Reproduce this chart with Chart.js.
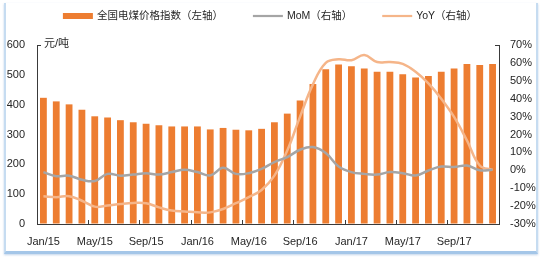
<!DOCTYPE html>
<html>
<head>
<meta charset="utf-8">
<script src="https://cdn.jsdelivr.net/npm/chart.js@4/dist/chart.umd.min.js"></script>
<style>
html,body{margin:0;padding:0;background:#fff;}
#wrap{position:relative;width:546px;height:262px;overflow:hidden;background:#fff;}
#frame{position:absolute;left:4px;top:3px;width:530px;height:248px;border-left:2px solid #C6DCF1;border-right:2px solid #C6DCF1;border-bottom:3px solid #A4C6E8;box-shadow:0 1px 2px rgba(120,160,210,0.45);}
canvas{position:absolute;left:0;top:0;}
</style>
</head>
<body>
<div id="wrap"><div id="frame"></div><canvas id="c" width="546" height="262"></canvas></div>
<script>
// ---- data ----
const categories = [
  'Jan/15','Feb/15','Mar/15','Apr/15','May/15','Jun/15','Jul/15','Aug/15','Sep/15','Oct/15','Nov/15','Dec/15',
  'Jan/16','Feb/16','Mar/16','Apr/16','May/16','Jun/16','Jul/16','Aug/16','Sep/16','Oct/16','Nov/16','Dec/16',
  'Jan/17','Feb/17','Mar/17','Apr/17','May/17','Jun/17','Jul/17','Aug/17','Sep/17','Oct/17','Nov/17','Dec/17'
];
const priceIndex = [
  423, 411, 401, 383, 361, 357, 348, 341, 336, 331, 327, 327,
  327, 317, 322, 316, 314, 319, 341, 370, 414, 469, 519, 535,
  529, 521, 510, 510, 502, 491, 496, 510, 521, 536, 533, 536
];
const momPct = [
  -1.0, -3.3, -3.0, -5.3, -6.0, -2.0, -3.0, -2.4, -1.6, -2.4, -1.0, 0.3,
  -1.0, -2.9, 1.4, -2.0, -1.6, 0.8, 4.6, 7.4, 11.5, 13.0, 9.6, 2.1,
  -1.0, -2.0, -2.4, -1.0, -1.6, -2.9, -0.1, 2.1, 1.8, 2.7, 0.0, 0.3
];
const yoyPct = [
  -14.5, -15.0, -14.5, -17.0, -20.3, -19.7, -18.8, -18.2, -18.4, -20.7, -22.5, -23.0,
  -23.5, -23.5, -21.6, -18.4, -15.0, -11.0, -3.0, 11.0, 30.0, 48.0, 60.0, 62.0,
  61.5, 64.4, 60.5, 60.5, 59.5, 55.0, 48.5, 40.0, 29.8, 16.7, 2.7, 0.2
];
const seriesNames = ['全国电煤价格指数（左轴）', 'MoM（右轴）', 'YoY（右轴）'];
const unitText = '元/吨';
const leftAxis = {min: 0, max: 600, step: 100};
const rightAxis = {min: -30, max: 70, step: 10};
const labelEvery = 4;

// ---- styles ----
const ORANGE = '#ED7D31', GREY = '#A5A5A5', PEACH = '#F5B589';
const TXT = '#262626', AXIS = '#3a3a3a';
const FONT = "'Liberation Sans', Arial, 'Noto Sans CJK SC', sans-serif";

const topLegend = {
  id: 'topLegend',
  afterDraw(chart) {
    const ctx = chart.ctx;
    const ds = chart.data.datasets;
    ctx.save();
    ctx.font = '10.5px ' + FONT;
    const sw = 30, gapText = 4, gapItem = 30, cy = 16;
    const widths = ds.map(d => sw + gapText + ctx.measureText(d.label).width);
    const total = widths.reduce((a, b) => a + b, 0) + gapItem * (ds.length - 1);
    let x = 270 - total / 2;
    ds.forEach((d, i) => {
      if (d.type === 'bar') {
        ctx.fillStyle = d.backgroundColor;
        ctx.fillRect(x, cy - 3, sw, 6);
      } else {
        ctx.strokeStyle = d.borderColor;
        ctx.lineWidth = 2.2;
        ctx.beginPath();
        ctx.moveTo(x, cy);
        ctx.lineTo(x + sw, cy);
        ctx.stroke();
      }
      ctx.fillStyle = TXT;
      ctx.textBaseline = 'middle';
      ctx.textAlign = 'left';
      ctx.fillText(d.label, x + sw + gapText, cy + 0.5);
      x += widths[i] + gapItem;
    });
    ctx.restore();
  }
};

const unitLabel = {
  id: 'unitLabel',
  afterDraw(chart) {
    const {ctx, chartArea} = chart;
    ctx.save();
    ctx.font = '11px ' + FONT;
    ctx.fillStyle = TXT;
    ctx.textBaseline = 'middle';
    ctx.textAlign = 'left';
    ctx.fillText(unitText, chartArea.left + 7, chartArea.top - 1);
    ctx.restore();
  }
};

const transparent = 'rgba(0,0,0,0)';

new Chart(document.getElementById('c'), {
  type: 'bar',
  data: {
    labels: categories,
    datasets: [
      {
        type: 'bar', label: seriesNames[0], data: priceIndex, yAxisID: 'y',
        backgroundColor: ORANGE, borderWidth: 0,
        categoryPercentage: 1.0, barPercentage: 0.53, order: 2
      },
      {
        type: 'line', label: seriesNames[1], data: momPct, yAxisID: 'y1',
        borderColor: GREY, backgroundColor: GREY, borderWidth: 2.5,
        pointRadius: 0, tension: 0.4, fill: false, order: 1
      },
      {
        type: 'line', label: seriesNames[2], data: yoyPct, yAxisID: 'y1',
        borderColor: PEACH, backgroundColor: PEACH, borderWidth: 2.5,
        pointRadius: 0, tension: 0.4, fill: false, order: 1
      }
    ]
  },
  options: {
    responsive: false,
    animation: false,
    layout: {padding: {top: 45, left: 0, right: 0, bottom: 0}},
    plugins: {legend: {display: false}, tooltip: {enabled: false}},
    scales: {
      x: {
        type: 'category',
        offset: true,
        grid: {
          display: true, drawOnChartArea: false, drawTicks: true, tickLength: -4, offset: true,
          color: c => (c.index % labelEvery === 0 && c.index > 0 && c.index < categories.length) ? AXIS : transparent,
          lineWidth: 1
        },
        border: {display: true, color: AXIS, width: 1},
        ticks: {
          autoSkip: false, maxRotation: 0, minRotation: 0, padding: 15,
          color: TXT, font: {family: FONT, size: 11},
          callback: function (v, i) { return i % labelEvery === 0 ? this.getLabelForValue(v) : ''; }
        },
        afterFit: s => { s.height = 38; }
      },
      y: {
        position: 'left',
        min: leftAxis.min, max: leftAxis.max,
        grid: {
          display: true, drawOnChartArea: false, drawTicks: true, tickLength: -4,
          color: c => (c.tick && c.tick.value === leftAxis.max) ? AXIS : transparent
        },
        border: {display: true, color: AXIS, width: 1},
        ticks: {stepSize: leftAxis.step, padding: 16, color: TXT, font: {family: FONT, size: 11}},
        afterFit: s => { s.width = 37; }
      },
      y1: {
        position: 'right',
        min: rightAxis.min, max: rightAxis.max,
        grid: {
          display: true, drawOnChartArea: false, drawTicks: true, tickLength: -4,
          color: c => (c.tick && c.tick.value === rightAxis.max) ? AXIS : transparent
        },
        border: {display: true, color: AXIS, width: 1},
        ticks: {stepSize: rightAxis.step, padding: 15, color: TXT, font: {family: FONT, size: 11},
          callback: v => v + '%'},
        afterFit: s => { s.width = 47; }
      }
    }
  },
  plugins: [topLegend, unitLabel]
});
</script>
</body>
</html>
